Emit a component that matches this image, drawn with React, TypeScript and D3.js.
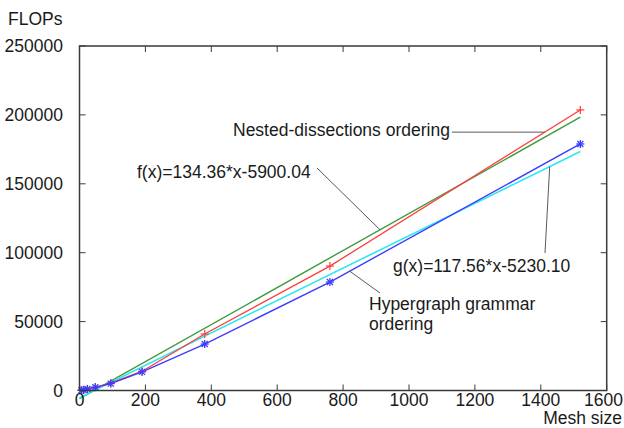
import React from "react";
import * as d3 from "d3";

const meshSizes = [6, 12, 24, 48, 95, 190, 380, 760, 1520];
const nestedFlops = [150, 450, 1200, 2500, 5300, 14000, 41000, 90300, 203600];
const hyperFlops = [200, 450, 1100, 2300, 5000, 13500, 33700, 78700, 178900];
const fitF = { a: 134.36, b: -5900.04 };
const fitG = { a: 117.56, b: -5230.1 };
const xTicks = [0, 200, 400, 600, 800, 1000, 1200, 1400, 1600];
const yTicks = [0, 50000, 100000, 150000, 200000, 250000];

const W = 624;
const H = 428;
const m = { left: 79.5, right: 606.7, top: 46, bottom: 390.5 };
const FONT = "'Liberation Sans', Arial, sans-serif";

export default function App() {
  const x = d3.scaleLinear().domain([0, 1600]).range([m.left, m.right]);
  const y = d3.scaleLinear().domain([0, 250000]).range([m.bottom, m.top]);

  const nested = meshSizes.map((d, i) => [d, nestedFlops[i]] as [number, number]);
  const hyper = meshSizes.map((d, i) => [d, hyperFlops[i]] as [number, number]);
  const line = d3
    .line<[number, number]>()
    .x((d) => x(d[0]))
    .y((d) => y(d[1]));
  const fx = (v: number) => fitF.a * v + fitF.b;
  const gx = (v: number) => fitG.a * v + fitG.b;
  const xEnd = meshSizes[meshSizes.length - 1];
  const fLine: [number, number][] = [
    [0, fx(0)],
    [xEnd, fx(xEnd)],
  ];
  const gLine: [number, number][] = [
    [0, gx(0)],
    [xEnd, gx(xEnd)],
  ];

  const red = "#ff3b3b";
  const green = "#3f9b3f";
  const blue = "#3c3cff";
  const cyan = "#2ee8f0";
  const axisCol = "#3a3a3a";
  const leader = "#5a5a5a";
  const tick = 6;

  const interp = (data: [number, number][], v: number) => {
    for (let i = 1; i < data.length; i++) {
      if (v <= data[i][0]) {
        const [x0, y0] = data[i - 1];
        const [x1, y1] = data[i];
        return y0 + ((v - x0) / (x1 - x0)) * (y1 - y0);
      }
    }
    return data[data.length - 1][1];
  };

  const s = 4;
  const lastTick = xTicks[xTicks.length - 1];
  return (
    <svg
      width={W}
      height={H}
      style={{ position: "absolute", left: 0, top: 0, background: "#fff" }}
      fontFamily={FONT}
      fontSize={17.5}
    >
      <rect x={0} y={0} width={W} height={H} fill="#fff" />
      <path d={line(fLine) || ""} stroke={green} strokeWidth={1.4} fill="none" />
      <path d={line(gLine) || ""} stroke={cyan} strokeWidth={1.6} fill="none" />
      <path d={line(nested) || ""} stroke={red} strokeWidth={1.3} fill="none" />
      <path d={line(hyper) || ""} stroke={blue} strokeWidth={1.4} fill="none" />
      {nested.map((d, i) => (
        <g key={"r" + i} stroke={red} strokeWidth={1.2}>
          <line x1={x(d[0]) - s} x2={x(d[0]) + s} y1={y(d[1])} y2={y(d[1])} />
          <line x1={x(d[0])} x2={x(d[0])} y1={y(d[1]) - s} y2={y(d[1]) + s} />
        </g>
      ))}
      {hyper.map((d, i) => (
        <g key={"b" + i} stroke={blue} strokeWidth={1.3}>
          <line x1={x(d[0]) - s} x2={x(d[0]) + s} y1={y(d[1])} y2={y(d[1])} />
          <line x1={x(d[0])} x2={x(d[0])} y1={y(d[1]) - s} y2={y(d[1]) + s} />
          <line x1={x(d[0]) - 3} x2={x(d[0]) + 3} y1={y(d[1]) - 3} y2={y(d[1]) + 3} />
          <line x1={x(d[0]) - 3} x2={x(d[0]) + 3} y1={y(d[1]) + 3} y2={y(d[1]) - 3} />
        </g>
      ))}

      <rect
        x={m.left}
        y={m.top}
        width={m.right - m.left}
        height={m.bottom - m.top}
        fill="none"
        stroke={axisCol}
        strokeWidth={1.5}
      />
      {xTicks.map((t) => (
        <g key={"xt" + t}>
          <line x1={x(t)} x2={x(t)} y1={m.bottom} y2={m.bottom - tick} stroke={axisCol} strokeWidth={1} />
          <line x1={x(t)} x2={x(t)} y1={m.top} y2={m.top + tick} stroke={axisCol} strokeWidth={1} />
          <text
            x={t === lastTick ? 623 : x(t)}
            y={406}
            textAnchor={t === lastTick ? "end" : "middle"}
            fill="#1a1a1a"
          >
            {t}
          </text>
        </g>
      ))}
      {yTicks.map((t) => (
        <g key={"yt" + t}>
          <line x1={m.left} x2={m.left + tick} y1={y(t)} y2={y(t)} stroke={axisCol} strokeWidth={1} />
          <line x1={m.right} x2={m.right - tick} y1={y(t)} y2={y(t)} stroke={axisCol} strokeWidth={1} />
          <text x={63} y={y(t) + 6} textAnchor="end" fill="#1a1a1a">
            {t}
          </text>
        </g>
      ))}
      <text x={8} y={25} fill="#1a1a1a">FLOPs</text>
      <text x={622} y={424} textAnchor="end" fill="#1a1a1a">Mesh size</text>

      <line x1={452} y1={y(interp(nested, 1412))} x2={x(1412)} y2={y(interp(nested, 1412))} stroke={leader} strokeWidth={1} />
      <text x={233} y={135.5} fill="#1a1a1a">Nested-dissections ordering</text>

      <line x1={317} y1={168} x2={x(912)} y2={y(fx(912))} stroke={leader} strokeWidth={1} />
      <text x={137} y={178} fill="#1a1a1a">f(x)=134.36*x-5900.04</text>

      <line x1={545} y1={253} x2={x(1427)} y2={y(gx(1427))} stroke={leader} strokeWidth={1} />
      <text x={393} y={272} fill="#1a1a1a">g(x)=117.56*x-5230.10</text>

      <line x1={x(820)} y1={y(interp(hyper, 820))} x2={380} y2={293} stroke={leader} strokeWidth={1} />
      <text x={369} y={309.5} fill="#1a1a1a">Hypergraph grammar</text>
      <text x={369} y={329.5} fill="#1a1a1a">ordering</text>
    </svg>
  );
}
